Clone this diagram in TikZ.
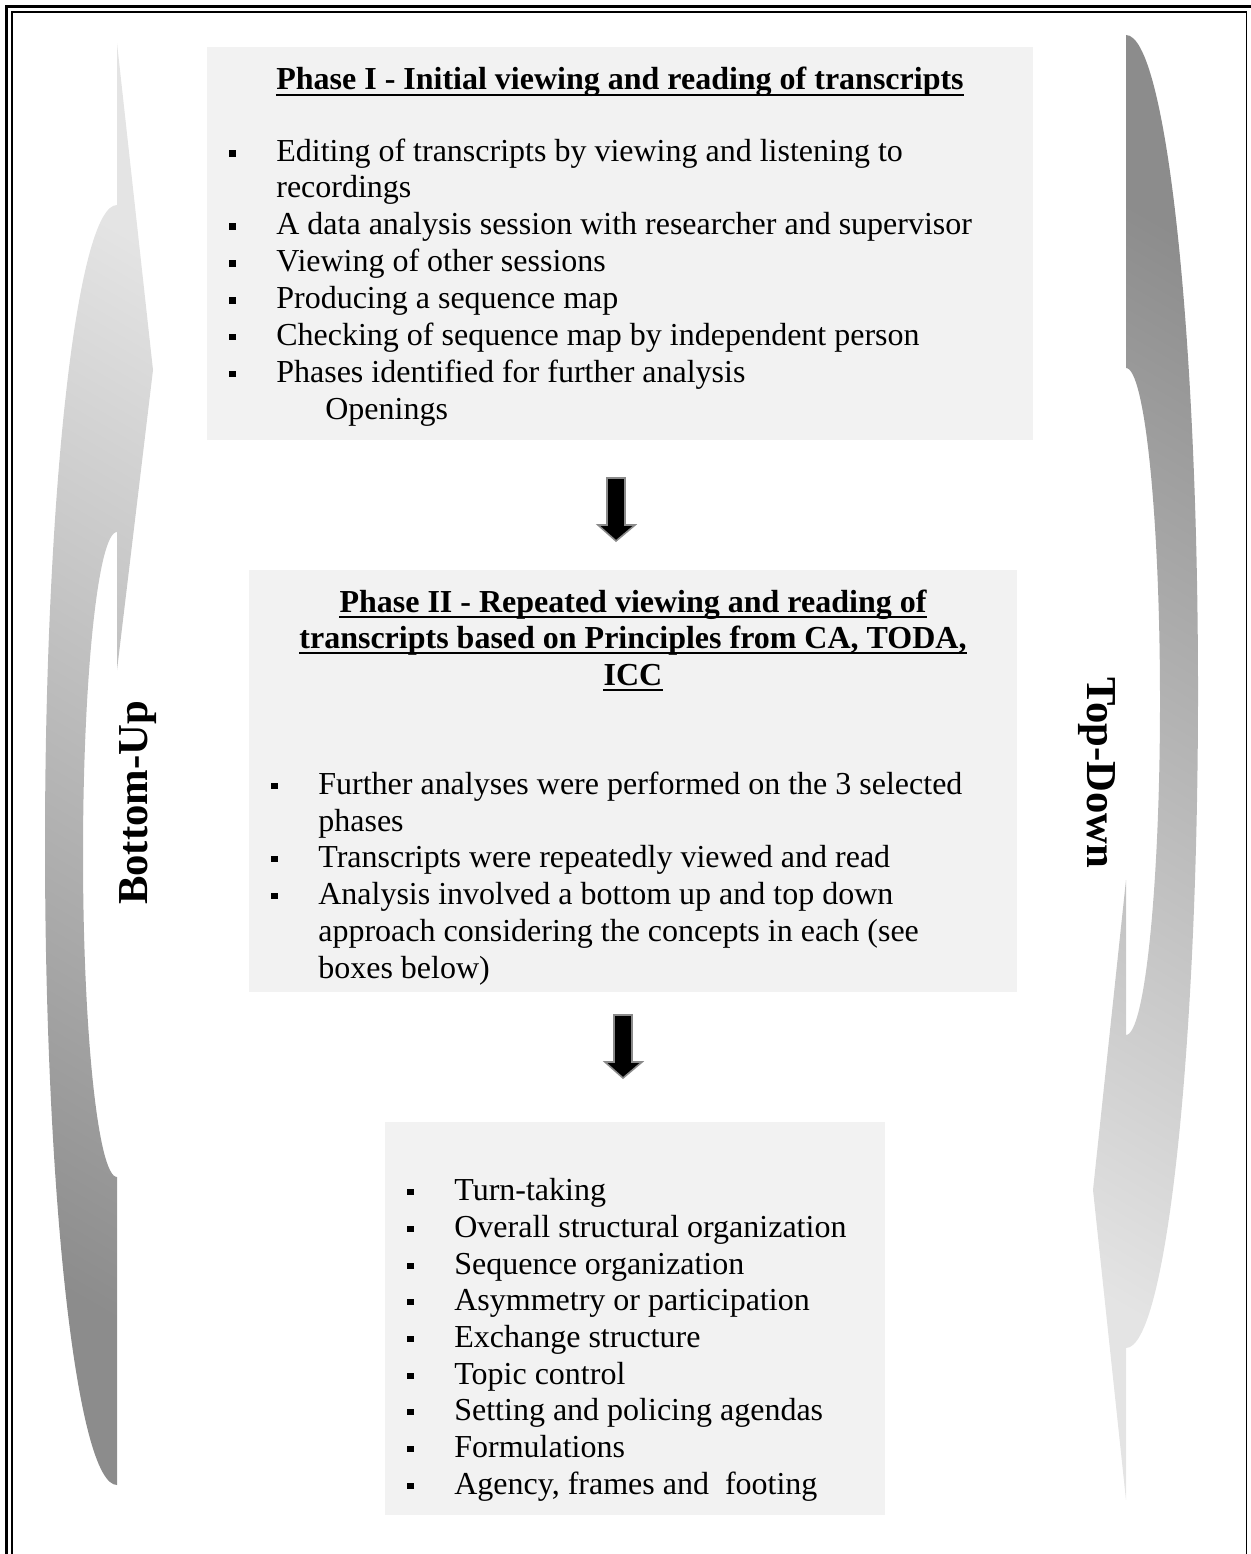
\documentclass[tikz,border=0pt]{standalone}
\usepackage{fontspec}
\setmainfont{Liberation Serif}
\begin{document}
\begin{tikzpicture}[x=0.02cm,y=-0.02cm]
\definecolor{boxgray}{HTML}{F2F2F2}
\definecolor{shadelight}{HTML}{E4E4E4}
\definecolor{shadedark}{HTML}{8C8C8C}
\definecolor{arrowedge}{HTML}{8A8A8A}
\tikzset{
  txt/.style={inner sep=0pt, font=\fontsize{18.21pt}{20.94pt}\selectfont},
  itemtext/.style={txt, anchor=base west},
  headtext/.style={txt, anchor=base, font=\fontsize{18.21pt}{20.94pt}\selectfont\bfseries},
  sidetext/.style={txt, font=\fontsize{24.28pt}{27.9pt}\selectfont\bfseries},
  uline/.style={line width=1.4pt},
  blockarrow/.style={fill=black, draw=arrowedge, line width=0.9pt, line join=miter},
}
% bulleted line: name, text x, baseline y, text
\newcommand\bulletline[4]{%
  \node[itemtext] (#1) at (#2,#3) {#4};
  \fill (#2-47,#3-5) rectangle (#2-40.5,#3-11.5);}
% continuation line of a bulleted item
\newcommand\plainline[4]{\node[itemtext] (#1) at (#2,#3) {#4};}
% underlined heading line: name, centre x, baseline y, text
\newcommand\headline[4]{%
  \node[headtext] (#1) at (#2,#3) {#4};
  \draw[uline] ([yshift=-2.8pt]#1.base west) -- ([yshift=-2.8pt]#1.base east);}

\useasboundingbox (0,0) rectangle (1250,1554);

% page frame (thick outer line, thin inner line)
\draw[line width=1.7pt] (6.5,6.5) rectangle (1258,1562);
\draw[line width=1.1pt] (12,12) rectangle (1246.5,1562);

% curved arrow on the left, pointing up
\shade[top color=shadelight, bottom color=shadedark, shading angle=-30]
  (117,43) -- (153,370) -- (117,670) -- (117,532)
  arc[start angle=-90, end angle=-270, x radius=34, y radius=322.5]
  -- (117,1485)
  arc[start angle=90, end angle=270, x radius=72, y radius=640]
  -- cycle;

% curved arrow on the right, pointing down
\shade[top color=shadedark, bottom color=shadelight, shading angle=-30]
  (1126,1500) -- (1093,1190) -- (1126,880) -- (1126,1035)
  arc[start angle=90, end angle=-90, x radius=34, y radius=333.5]
  -- (1126,35)
  arc[start angle=-90, end angle=90, x radius=72, y radius=656.5]
  -- cycle;

\node[sidetext, rotate=90] (bottomup) at (138,803) {Bottom-Up};
\node[sidetext, rotate=-90] (topdown) at (1097,773) {Top-Down};

% Phase I
\fill[boxgray] (207,47) rectangle (1033,440);
\headline{h1}{620}{90}{Phase I - Initial viewing and reading of transcripts}
\bulletline{a1}{276}{162}{Editing of transcripts by viewing and listening to}
\plainline{a1b}{276}{198}{recordings}
\bulletline{a2}{276}{235}{A data analysis session with researcher and supervisor}
\bulletline{a3}{276}{272}{Viewing of other sessions}
\bulletline{a4}{276}{309}{Producing a sequence map}
\bulletline{a5}{276}{345}{Checking of sequence map by independent person}
\bulletline{a6}{276}{382}{Phases identified for further analysis}
\plainline{a6b}{325}{419}{Openings}

% arrow from Phase I to Phase II
\draw[blockarrow] (607,478) -- (625,478) -- (625,525) -- (635,525) -- (616,541)
  -- (598,525) -- (607,525) -- cycle;

% Phase II
\fill[boxgray] (249,570) rectangle (1017,992);
\headline{h2a}{633}{612}{Phase II - Repeated viewing and reading of}
\headline{h2b}{633}{648}{transcripts based on Principles from CA, TODA,}
\headline{h2c}{633}{685}{ICC}
\bulletline{b1}{318}{794}{Further analyses were performed on the 3 selected}
\plainline{b1b}{318}{831}{phases}
\bulletline{b2}{318}{867}{Transcripts were repeatedly viewed and read}
\bulletline{b3}{318}{904}{Analysis involved a bottom up and top down}
\plainline{b3b}{318}{941}{approach considering the concepts in each (see}
\plainline{b3c}{318}{978}{boxes below)}

% arrow from Phase II to the concept list
\draw[blockarrow] (614,1015) -- (632,1015) -- (632,1062) -- (642,1062) -- (623,1078)
  -- (605,1062) -- (614,1062) -- cycle;

% concepts examined
\fill[boxgray] (385,1122) rectangle (885,1515);
\bulletline{c1}{454}{1200}{Turn-taking}
\bulletline{c2}{454}{1237}{Overall structural organization}
\bulletline{c3}{454}{1274}{Sequence organization}
\bulletline{c4}{454}{1310}{Asymmetry or participation}
\bulletline{c5}{454}{1347}{Exchange structure}
\bulletline{c6}{454}{1384}{Topic control}
\bulletline{c7}{454}{1420}{Setting and policing agendas}
\bulletline{c8}{454}{1457}{Formulations}
\bulletline{c9}{454}{1494}{Agency, frames and~ footing}
\end{tikzpicture}
\end{document}
